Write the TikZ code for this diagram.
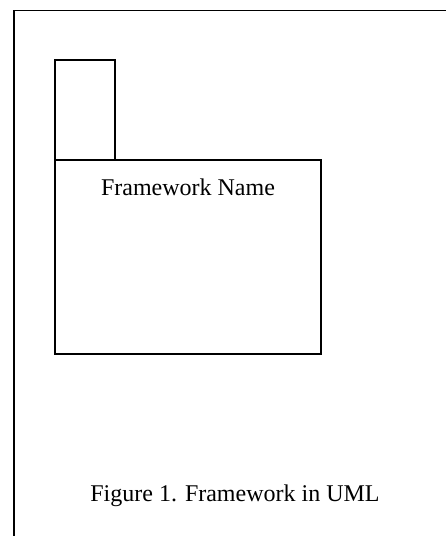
\documentclass[tikz,border=0pt]{standalone}
\usepackage{fontspec}
\setmainfont{Liberation Serif}
\begin{document}
\begin{tikzpicture}[x=1pt,y=1pt,line cap=rect,line join=miter]
  \useasboundingbox (0,0) rectangle (446,-536);
  \coordinate (frameTL) at (14,-10.5);
  \coordinate (tabTL) at (55,-60);
  \coordinate (tabBR) at (115,-160);
  \coordinate (bodyTL) at (55,-160);
  \coordinate (bodyBR) at (321,-354);
  \draw[line width=1.8pt] (frameTL |- 0,-536) -- (frameTL) -- (446,-10.5);
  \draw[line width=1.6pt] (tabTL) rectangle (tabBR);
  \draw[line width=1.6pt] (bodyTL) rectangle (bodyBR);
  \node[font=\fontsize{24}{28}\selectfont] (name) at (188,-187) {Framework Name};
  \node[font=\fontsize{24}{28}\selectfont] (caption) at (235,-496) {Figure 1. Framework in UML};
\end{tikzpicture}
\end{document}
